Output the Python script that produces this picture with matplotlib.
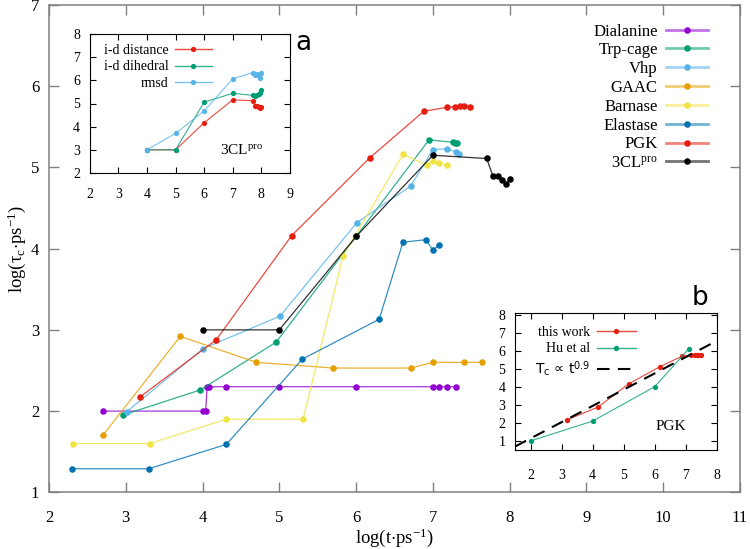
import numpy as np
import matplotlib
matplotlib.use('Agg')
import matplotlib.pyplot as plt
from matplotlib.colors import to_rgba

plt.rcParams['font.family'] = ['Liberation Serif', 'DejaVu Serif']
plt.rcParams['mathtext.fontset'] = 'custom'
plt.rcParams['mathtext.rm'] = 'Liberation Serif'
plt.rcParams['mathtext.it'] = 'Liberation Serif:italic'

# ---------------- data (log10 time / log10 tau_c) ----------------
dialanine_x = [2.70, 4.00, 4.04, 4.06, 4.08, 4.30, 5.00, 6.00, 7.00, 7.08, 7.18, 7.30]
dialanine_y = [2.00, 2.00, 2.00, 2.30, 2.30, 2.30, 2.30, 2.30, 2.30, 2.30, 2.30, 2.30]

trpcage_x = [2.96, 3.97, 4.96, 6.00, 6.95, 7.26, 7.29, 7.31]
trpcage_y = [1.95, 2.26, 2.85, 4.15, 5.34, 5.31, 5.30, 5.30]

vhp_x = [3.01, 4.01, 5.01, 6.01, 6.71, 7.00, 7.18, 7.30, 7.34]
vhp_y = [1.99, 2.77, 3.17, 4.32, 4.77, 5.22, 5.23, 5.19, 5.17]

gaac_x = [2.70, 3.71, 4.70, 5.70, 6.71, 7.00, 7.40, 7.64]
gaac_y = [1.70, 2.92, 2.60, 2.53, 2.53, 2.60, 2.60, 2.60]

barnase_x = [2.31, 3.31, 4.31, 5.31, 5.83, 6.61, 6.92, 7.00, 7.08, 7.18]
barnase_y = [1.60, 1.60, 1.90, 1.90, 3.91, 5.16, 5.03, 5.08, 5.05, 5.03]

elastase_x = [2.30, 3.30, 4.31, 5.30, 6.30, 6.61, 6.91, 7.00, 7.08]
elastase_y = [1.29, 1.29, 1.59, 2.64, 3.13, 4.08, 4.11, 3.98, 4.05]

pgk_x = [3.18, 4.18, 5.16, 6.18, 6.88, 7.18, 7.29, 7.35, 7.41, 7.48]
pgk_y = [2.17, 2.88, 4.16, 5.12, 5.69, 5.74, 5.75, 5.76, 5.76, 5.75]

cl3_x = [4.00, 5.00, 6.00, 7.00, 7.70, 7.78, 7.85, 7.90, 7.95, 8.00]
cl3_y = [3.00, 3.00, 4.15, 5.15, 5.11, 4.90, 4.90, 4.84, 4.79, 4.86]

# inset a (3CLpro, three order parameters)
ida_dist_x = [4.00, 5.00, 6.00, 7.00, 7.70, 7.78, 7.85, 7.90, 7.95, 8.00]
ida_dist_y = [3.00, 3.00, 4.17, 5.16, 5.12, 4.90, 4.88, 4.83, 4.80, 4.86]
ida_dih_x = [4.00, 5.00, 6.00, 7.00, 7.70, 7.78, 7.85, 7.90, 7.95, 8.00]
ida_dih_y = [3.00, 3.00, 5.06, 5.44, 5.35, 5.33, 5.38, 5.40, 5.45, 5.58]
rmsd_x = [4.00, 5.00, 6.00, 7.00, 7.70, 7.78, 7.85, 7.90, 7.95, 8.00]
rmsd_y = [3.00, 3.71, 4.68, 6.07, 6.33, 6.25, 6.28, 6.18, 6.12, 6.30]

# inset b (PGK comparison)
hu_x = [2.00, 4.00, 6.00, 7.10]
hu_y = [1.00, 2.10, 4.00, 6.10]
tc_exponent = 0.9
tc_intercept = -0.66

labels = ['Dialanine', 'Trp-cage', 'Vhp', 'GAAC', 'Barnase', 'Elastase', 'PGK',
          '3CL$^{\\mathregular{pro}}$']
colors = ['#9400d3', '#009e73', '#56b4e9', '#e69f00', '#f0e442', '#0072b2', '#e51e10', '#000000']
series_x = [dialanine_x, trpcage_x, vhp_x, gaac_x, barnase_x, elastase_x, pgk_x, cl3_x]
series_y = [dialanine_y, trpcage_y, vhp_y, gaac_y, barnase_y, elastase_y, pgk_y, cl3_y]

W, H = 750, 549
fig = plt.figure(figsize=(7.5, 5.49), dpi=100)


def rect(l, t, r, b):
    return [l / W, 1 - b / H, (r - l) / W, (b - t) / H]


def fig_pt(px, py):
    return (px / W, 1 - py / H)


def draw(axis, x, y, c, label, ms=4.7, lw=0.9, la=0.8):
    return axis.plot(x, y, color=to_rgba(c, la), lw=lw, marker='o', ms=ms,
                     mfc=c, mec=c, mew=0, label=label)[0]


def style_legend(leg, alpha=0.55, lw=2.0):
    for ln in leg.get_lines():
        c = ln.get_markerfacecolor()
        ln.set_color(to_rgba(c, alpha))
        ln.set_linewidth(lw)


# ---------------- main axes ----------------
ax = fig.add_axes(rect(49, 5, 740, 492.3))
for x, y, c, lab in zip(series_x, series_y, colors, labels):
    draw(ax, x, y, c, lab)
ax.set_xlim(2, 11)
ax.set_ylim(1, 7)
ax.set_xticks(range(2, 12))
ax.set_yticks(range(1, 8))
ax.tick_params(direction='in', top=True, right=True, length=7, width=1,
               color='#808080', labelsize=12)
ax.tick_params(axis='x', pad=13)
ax.tick_params(axis='y', pad=7)
for s in ax.spines.values():
    s.set_color('#808080')
    s.set_linewidth(1.1)
ax.set_xlabel('log(t$\\cdot$ps$^{\\mathregular{-1}}$)', fontsize=13.5)
ax.xaxis.set_label_coords(0.5, -0.093)
ax.xaxis.label.set_va('center')
ax.set_ylabel('log(τ$_{\\mathregular{c}}$$\\cdot$ps$^{\\mathregular{-1}}$)', fontsize=13.5)
ax.yaxis.set_label_coords(-0.047, 0.5)
ax.yaxis.label.set_va('center')

leg = ax.legend(loc='upper right', bbox_to_anchor=fig_pt(708.3, 23.5),
                bbox_transform=fig.transFigure, frameon=False, markerfirst=False,
                fontsize=12, handlelength=2.55, handletextpad=0.48,
                labelspacing=0.17, borderpad=0, borderaxespad=0)
style_legend(leg)

# ---------------- inset a ----------------
axa = fig.add_axes(rect(89.7, 34, 290, 173))
axa.set_facecolor('white')
draw(axa, ida_dist_x, ida_dist_y, '#e51e10', 'i-d distance', ms=3.8, lw=0.8)
draw(axa, ida_dih_x, ida_dih_y, '#009e73', 'i-d dihedral', ms=3.8, lw=0.8)
draw(axa, rmsd_x, rmsd_y, '#56b4e9', 'rmsd', ms=3.8, lw=0.8)
axa.set_xlim(2, 9)
axa.set_ylim(2, 8)
axa.set_xticks(range(2, 10))
axa.set_yticks(range(2, 9))
axa.tick_params(direction='in', top=True, right=True, length=4, width=0.8,
                labelsize=10)
axa.tick_params(axis='x', pad=11)
axa.tick_params(axis='y', pad=7)
for s in axa.spines.values():
    s.set_linewidth(0.8)
lega = axa.legend(loc='upper right', bbox_to_anchor=fig_pt(211.7, 44),
                  bbox_transform=fig.transFigure, frameon=False, markerfirst=False,
                  fontsize=10, handlelength=2.64, handletextpad=0.48,
                  labelspacing=0.25, borderpad=0, borderaxespad=0)
style_legend(lega, alpha=0.8, lw=1.0)
axa.text(0.867, 0.165, '3CL$^{\\mathregular{pro}}$', transform=axa.transAxes,
         ha='right', va='center', fontsize=11)
fig.text(*fig_pt(303, 43), 'a', family='DejaVu Sans', fontsize=19,
         ha='center', va='center')

# ---------------- inset b ----------------
axb = fig.add_axes(rect(515, 312.7, 716.7, 450))
axb.set_facecolor('white')
draw(axb, pgk_x, pgk_y, '#e51e10', 'this work', ms=3.8, lw=0.8)
draw(axb, hu_x, hu_y, '#009e73', 'Hu et al', ms=3.8, lw=0.8)
tc_x = np.array([1.5, 8.0])
axb.plot(tc_x, tc_exponent * tc_x + tc_intercept, color='black', lw=1.5,
         dashes=(6, 4), label='T$_{\\mathregular{c}}$ ∝ t$^{\\mathregular{0.9}}$')
axb.set_xlim(1.5, 8)
axb.set_ylim(0.5, 8.1)
axb.set_xticks(range(2, 9))
axb.set_yticks(range(1, 9))
axb.tick_params(direction='in', top=True, right=True, length=4, width=0.8,
                labelsize=10)
axb.tick_params(axis='x', pad=14)
axb.tick_params(axis='y', pad=7)
for s in axb.spines.values():
    s.set_linewidth(0.8)
legb = axb.legend(loc='upper right', bbox_to_anchor=fig_pt(635.7, 326),
                  bbox_transform=fig.transFigure, frameon=False, markerfirst=False,
                  fontsize=10, handlelength=2.8, handletextpad=0.48,
                  labelspacing=0.25, borderpad=0, borderaxespad=0)
style_legend(legb, alpha=0.8, lw=1.0)
legb.get_lines()[2].set_color('black')
legb.get_lines()[2].set_linewidth(1.5)
legb.get_texts()[2].set_family('DejaVu Sans')
axb.text(0.851, 0.17, 'PGK', transform=axb.transAxes, ha='right', va='center',
         fontsize=11)
fig.text(*fig_pt(700, 298), 'b', family='DejaVu Sans', fontsize=19,
         ha='center', va='center')

fig.savefig('out.png', dpi=100)
